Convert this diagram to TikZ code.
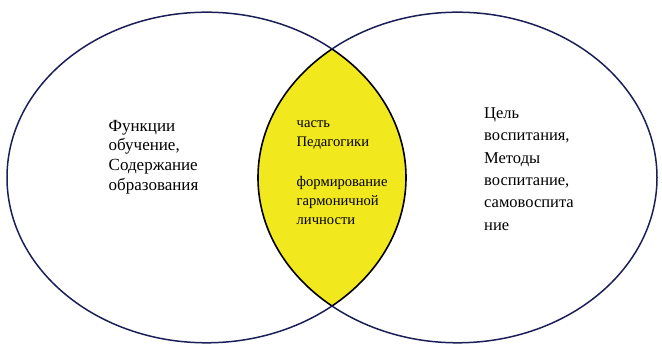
\documentclass[tikz,border=0pt]{standalone}
\usepackage{fontspec}
\setmainfont{Liberation Serif}
\definecolor{ringblue}{RGB}{28,30,88}
\definecolor{lensyellow}{RGB}{242,232,30}
\tikzset{
  ring/.style={draw=ringblue,line width=1.5pt},
  lensedge/.style={draw=black,line width=1.6pt},
  txt/.style={anchor=north west,inner sep=0pt,align=left,text=black}
}
\begin{document}
\begin{tikzpicture}[x=1pt,y=-1pt]
\useasboundingbox (0,0) rectangle (662,344);
\def\leftell{(206.5,177.5) ellipse [x radius=199.5,y radius=165.3]}
\def\rightell{(457.5,177.5) ellipse [x radius=199.5,y radius=165.3]}
\begin{scope}
  \clip \leftell;
  \fill[lensyellow] \rightell;
  \draw[lensedge] \rightell;
\end{scope}
\begin{scope}
  \clip \rightell;
  \draw[lensedge] \leftell;
\end{scope}
\begin{scope}[even odd rule]
  \clip (0,0) rectangle (662,344) \leftell;
  \draw[ring] \rightell;
\end{scope}
\begin{scope}[even odd rule]
  \clip (0,0) rectangle (662,344) \rightell;
  \draw[ring] \leftell;
\end{scope}
\node[txt,font=\fontsize{17}{19.7}\selectfont] (lefttext) at (108.5,117.9)
  {\rule{0pt}{0.77em}Функции\\обучение,\\Содержание\\образования};
\node[txt,font=\fontsize{14.6}{19}\selectfont] (midtext) at (296.5,115.8)
  {\rule{0pt}{0.77em}часть\\Педагогики\\[21pt]формирование\\гармоничной\\личности};
\node[txt,font=\fontsize{16.5}{22.4}\selectfont] (righttext) at (484,105.3)
  {\rule{0pt}{0.77em}Цель\\воспитания,\\Методы\\воспитание,\\самовоспита\\ние};
\end{tikzpicture}
\end{document}
